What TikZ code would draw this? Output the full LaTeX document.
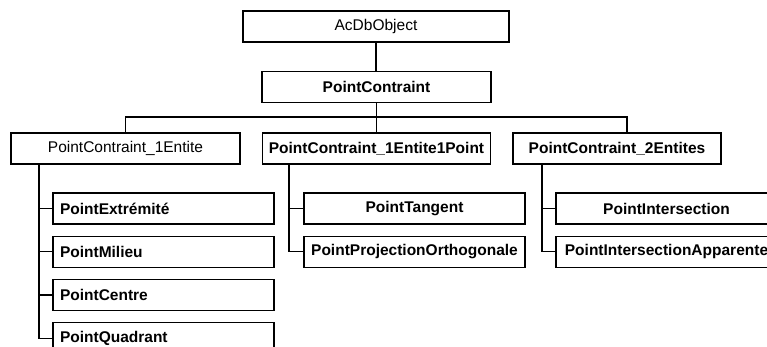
\documentclass[tikz,border=0pt]{standalone}
\usepackage{fontspec}
\setmainfont{Liberation Sans}
\usepackage{tikz}
\usetikzlibrary{positioning,calc}
\tikzset{
  cls/.style={draw, line width=1.2pt, minimum height=31pt, inner sep=0pt, align=center, font=\fontsize{15.5}{18}\selectfont},
  bcls/.style={cls, font=\fontsize{15.5}{18}\selectfont\bfseries},
  lcls/.style={bcls, align=left, text width=207pt, inner xsep=7pt},
  link/.style={line width=1.2pt}
}

\begin{document}
\begin{tikzpicture}[x=1pt, y=-1pt, node distance=11pt]
        \useasboundingbox (0,0) rectangle (767,347);
        \clip (0,0) rectangle (767,347);

        \node[cls, minimum width=266pt] (obj) at (376,26.5) {AcDbObject};
        \node[bcls, minimum width=229pt] (pc) at (376.5,87) {PointContraint};
        \draw[link] (obj.south) -- (obj.south |- pc.north);

        \node[cls, minimum width=229pt] (e1) at (125.5,148.5) {PointContraint\_1Entite};
        \node[bcls, minimum width=228pt] (e1p) at (376.5,148.5) {PointContraint\_1Entite1Point};
        \node[bcls, minimum width=208pt] (e2) at (617,148.5) {PointContraint\_2Entites};
        \coordinate (bar) at (376.5,117);
        \draw[link] (pc.south) -- (e1p.north);
        \draw[link] (e1.north) |- (bar) -| ([xshift=10pt]e2.north);

        % children of PointContraint_1Entite
        \node[lcls] (ext) at (163.5,208.5) {PointExtrémité};
        \node[lcls, below=of ext] (mil) {PointMilieu};
        \node[lcls, below=of mil] (cen) {PointCentre};
        \node[lcls, below=of cen] (quad) {PointQuadrant};
        \coordinate (t1) at ([xshift=-86.5pt]e1.south);
        \draw[link] (t1) |- (quad.west);
        \foreach \n in {ext,mil,cen}
          \draw[link] (\n.west) -- (\n.west -| t1);

        % children of PointContraint_1Entite1Point
        \node[bcls, minimum width=221pt] (tan) at (414.5,208.5) {PointTangent};
        \node[bcls, minimum width=221pt, below=of tan] (proj) {PointProjectionOrthogonale};
        \coordinate (t2) at ([xshift=-87.5pt]e1p.south);
        \draw[link] (t2) |- (proj.west);
        \draw[link] (tan.west) -- (tan.west -| t2);

        % children of PointContraint_2Entites
        \node[bcls, minimum width=221pt] (inter) at (666.5,208.5) {PointIntersection};
        \node[bcls, minimum width=221pt, below=of inter] (app) {PointIntersectionApparente};
        \coordinate (t3) at ([xshift=-75pt]e2.south);
        \draw[link] (t3) |- (app.west);
        \draw[link] (inter.west) -- (inter.west -| t3);
      \end{tikzpicture}
\end{document}
